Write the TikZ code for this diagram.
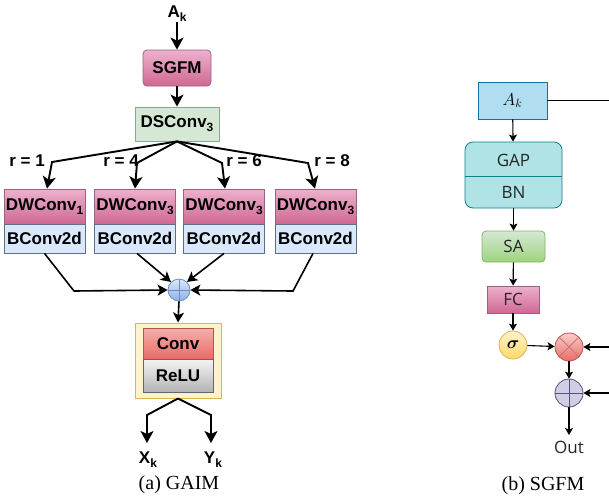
\documentclass[tikz,border=0pt]{standalone}
\usepackage{amsmath,bm}
\usepackage{fontspec}
\setmainfont{Liberation Serif}
\newfontfamily\lsans{Liberation Sans}
\newfontfamily\osans{Open Sans}
\usetikzlibrary{arrows.meta,calc,shadings}
\newcommand\lowsub[1]{\raisebox{-0.45ex}{\fontsize{12}{12}\selectfont #1}}

\definecolor{pinkA}{HTML}{EDB1CC}
\definecolor{pinkB}{HTML}{CF6894}
\definecolor{pinkL}{HTML}{996185}
\definecolor{greenF}{HTML}{D5E8D4}
\definecolor{greenL}{HTML}{82B366}
\definecolor{greenB}{HTML}{9ED47F}
\definecolor{blueF}{HTML}{DAE8FC}
\definecolor{blueL}{HTML}{5E6F87}
\definecolor{sumA}{HTML}{DAE8FC}
\definecolor{sumB}{HTML}{8FB0E3}
\definecolor{sumL}{HTML}{6C8EBF}
\definecolor{yelF}{HTML}{FFF2CC}
\definecolor{yelL}{HTML}{D6B656}
\definecolor{yelB}{HTML}{FFD966}
\definecolor{redA}{HTML}{F8CECC}
\definecolor{redB}{HTML}{EA6B66}
\definecolor{redL}{HTML}{B85450}
\definecolor{grayA}{HTML}{F5F5F5}
\definecolor{grayB}{HTML}{B3B3B3}
\definecolor{grayL}{HTML}{666666}
\definecolor{akF}{HTML}{B1DDF0}
\definecolor{akL}{HTML}{10739E}
\definecolor{tealF}{HTML}{B0E3E6}
\definecolor{tealL}{HTML}{0E8088}
\definecolor{purF}{HTML}{D0CEE2}
\definecolor{purL}{HTML}{56517E}

\tikzset{
  lbl/.style={font=\lsans\bfseries\fontsize{17}{18}\selectfont, inner sep=0pt},
  blk/.style={lbl, draw, line width=0.8pt, minimum width=#1, inner sep=0pt},
  pinkbox/.style={blk=#1, draw=pinkL, top color=pinkA, bottom color=pinkB},
  flow/.style={line width=1.9pt, -{Stealth[length=12pt,width=13pt,inset=3pt]}},
  mergeline/.style={line width=1.6pt, -{Stealth[length=10pt,width=11pt,inset=2.5pt]}},
  rfont/.style={font=\osans\fontsize{17}{19}\selectfont, text=black!85, inner sep=0pt},
  rflow/.style={line width=1.1pt, -{Stealth[length=7pt,width=8pt,inset=1.5pt]}},
  caption/.style={font=\fontsize{20}{22}\selectfont, inner sep=0pt},
  opcirc/.style={circle, draw, line width=0.8pt, minimum size=28pt, inner sep=0pt},
}

\begin{document}
\begin{tikzpicture}[x=1pt,y=-1pt]
\useasboundingbox (0,0) rectangle (609,499);

% ---------------- GAIM ----------------
\node[lbl] (ak) at (177,14) {A\lowsub{k}};
\node[pinkbox=68pt, minimum height=36pt, rounded corners=4pt] (sgfm) at (177,68) {SGFM};
\node[blk=84pt, minimum height=34pt, draw=greenL, fill=greenF] (ds) at (177,124) {DSConv\lowsub{3}};

\foreach \i/\x/\s in {1/44.5/1, 2/135/3, 3/224/3, 4/315.5/3}{
  \node[pinkbox=81pt, minimum height=35pt] (dw\i) at (\x,206.5) {DWConv\lowsub{\s}};
  \node[blk=81pt, minimum height=29pt, draw=blueL, fill=blueF] (bc\i) at (\x,238.5) {BConv2d};
}

\node[lbl] (r1) at (27,161) {r = 1};
\node[lbl] (r2) at (121,161) {r = 4};
\node[lbl] (r3) at (244,161) {r = 6};
\node[lbl] (r4) at (332,161) {r = 8};

\node[circle, draw=sumL, line width=0.8pt, top color=sumA, bottom color=sumB,
      minimum size=22pt, inner sep=0pt,
      path picture={\draw[sumL, line width=0.8pt]
        (path picture bounding box.north) -- (path picture bounding box.south)
        (path picture bounding box.west) -- (path picture bounding box.east);}]
      (sum) at (179,290) {};

\node[draw=yelL, fill=yelF, line width=1pt, minimum width=86pt, minimum height=75pt, inner sep=0pt]
      (outer) at (178,360.5) {};
\node[blk=70pt, minimum height=31pt, draw=redL, top color=redA!70!redB, bottom color=redB] (conv) at (178,343.5) {Conv};
\node[blk=70pt, minimum height=33pt, draw=grayL, top color=grayA, bottom color=grayB] (relu) at (178,375.5) {ReLU};

\node[lbl] (xk) at (148,460) {X\lowsub{k}};
\node[lbl] (yk) at (213,460) {Y\lowsub{k}};
\node[caption] (capa) at (179,485) {(a) GAIM};

% arrow ends above the output labels
\coordinate (xend) at (147,443);
\coordinate (yend) at (211,443);

\draw[flow] (ak) -- (sgfm);
\draw[flow] (sgfm) -- (ds);
\draw[flow] (ds.south) -- (52,162) -- (dw1.north -| 47,0);
\draw[flow] (ds.south) -- (137,163) -- (dw2.north);
\draw[flow] (ds.south) -- (222,163) -- (dw3.north -| 225,0);
\draw[flow] (ds.south) -- (308,163) -- (dw4.north -| 315,0);

\draw[mergeline] (bc1.south) -- (74,291) -- (sum.west);
\draw[mergeline] (bc2.south -| 137,0) -- (sum.north west);
\draw[mergeline] (bc3.south -| 224,0) -- (sum.north east);
\draw[mergeline] (bc4.south -| 313,0) -- (293,291) -- (sum.east);
\draw[mergeline] (sum.south) -- (outer.north);

\draw[flow] (outer.south) -- (147,415) -- (xend);
\draw[flow] (outer.south) -- (211,415) -- (yend);

% ---------------- SGFM ----------------
\coordinate (edgeA) at (609,100.5);
\coordinate (edgeM) at (609,347);
\coordinate (edgeS) at (609,393);
\coordinate (outend) at (569,435);

\node[draw=akL, fill=akF, line width=0.8pt, minimum width=69pt, minimum height=37pt, inner sep=0pt,
      font=\fontsize{18}{20}\selectfont] (ak2) at (512.5,100.5) {$A_k$};
\node[draw=tealL, fill=tealF, line width=0.8pt, minimum width=97pt, minimum height=66pt,
      rounded corners=8pt, inner sep=0pt] (gap) at (513.5,175) {};
\draw[tealL, line width=0.8pt] (gap.west |- 0,176) -- (gap.east |- 0,176);
\node[rfont] (gapt) at (513.5,160) {GAP};
\node[rfont] (bnt) at (513.5,192) {BN};
\node[rfont, draw=greenL, top color=greenF, bottom color=greenB, line width=0.8pt,
      minimum width=63pt, minimum height=31pt, rounded corners=4pt] (sa) at (513.5,246.5) {SA};
\node[rfont, draw=pinkL, top color=pinkA, bottom color=pinkB, line width=0.8pt,
      minimum width=52pt, minimum height=27pt] (fc) at (513,299.5) {FC};
\node[opcirc, draw=yelL, top color=yelF, bottom color=yelB, font=\fontsize{18}{20}\selectfont] (sig) at (513,345) {$\bm{\sigma}$};
\node[opcirc, draw=redL, top color=redA, bottom color=redB,
      path picture={\draw[redL!80, line width=0.8pt]
        (path picture bounding box.north west) -- (path picture bounding box.south east)
        (path picture bounding box.south west) -- (path picture bounding box.north east);}]
      (mul) at (569,347) {};
\node[opcirc, draw=purL, fill=purF,
      path picture={\draw[purL, line width=0.8pt]
        (path picture bounding box.north) -- (path picture bounding box.south)
        (path picture bounding box.west) -- (path picture bounding box.east);}]
      (add) at (569,393) {};
\node[rfont] (out) at (569,447) {Out};
\node[caption] (capb) at (543,486) {(b) SGFM};

\draw[line width=1.1pt] (ak2.east) -- (edgeA);
\draw[rflow] (ak2) -- (gap);
\draw[rflow] (gap) -- (sa);
\draw[rflow] (sa) -- (fc);
\draw[rflow] (fc) -- (sig);
\draw[rflow] (sig) -- (mul);
\draw[rflow] (edgeM) -- (mul);
\draw[rflow] (mul) -- (add);
\draw[rflow] (edgeS) -- (add);
\draw[rflow] (add) -- (outend);
\end{tikzpicture}
\end{document}
